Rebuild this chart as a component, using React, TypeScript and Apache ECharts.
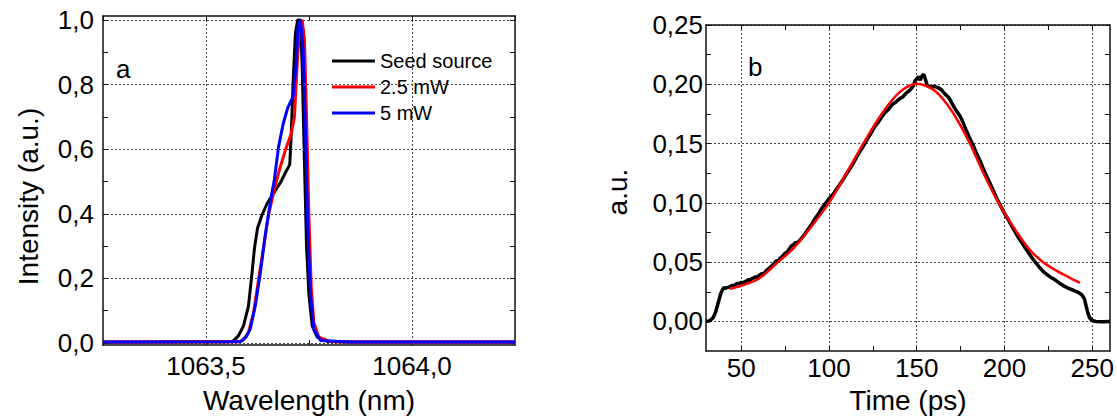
import React, { useEffect, useRef } from 'react';
import * as echarts from 'echarts';

// ---------- Panel a: spectra ----------
const seedWl = [1063.25, 1063.4, 1063.5, 1063.55, 1063.566, 1063.579, 1063.591, 1063.603, 1063.6115, 1063.6178, 1063.6251, 1063.6359, 1063.648, 1063.6602, 1063.6805, 1063.6927, 1063.7032, 1063.7066, 1063.7115, 1063.7171, 1063.7227, 1063.7293, 1063.7334, 1063.739, 1063.7439, 1063.7495, 1063.7578, 1063.77, 1063.794, 1063.85, 1064.25];
const seedInt = [0.003, 0.003, 0.004, 0.004, 0.006, 0.023, 0.053, 0.114, 0.215, 0.295, 0.356, 0.396, 0.431, 0.456, 0.496, 0.527, 0.552, 0.637, 0.809, 0.96, 1.0, 1.0, 0.86, 0.557, 0.305, 0.154, 0.053, 0.018, 0.005, 0.003, 0.003];

const p25Wl = [1063.25, 1063.55, 1063.58, 1063.591, 1063.603, 1063.6154, 1063.6273, 1063.6395, 1063.6517, 1063.6624, 1063.6761, 1063.6927, 1063.7066, 1063.7146, 1063.7212, 1063.7276, 1063.7334, 1063.739, 1063.7439, 1063.7495, 1063.7554, 1063.7617, 1063.7739, 1063.8, 1063.85, 1064.25];
const p25Int = [0.003, 0.004, 0.004, 0.01, 0.033, 0.094, 0.194, 0.295, 0.396, 0.456, 0.527, 0.597, 0.647, 0.698, 0.86, 0.99, 1.0, 0.94, 0.708, 0.406, 0.174, 0.063, 0.018, 0.005, 0.003, 0.003];

const p5Wl = [1063.25, 1063.55, 1063.585, 1063.598, 1063.6073, 1063.6195, 1063.6317, 1063.6439, 1063.6561, 1063.6659, 1063.6761, 1063.6871, 1063.6983, 1063.7115, 1063.7188, 1063.7237, 1063.7293, 1063.7359, 1063.7415, 1063.7471, 1063.7537, 1063.7617, 1063.7781, 1063.85, 1064.25];
const p5Int = [0.003, 0.004, 0.005, 0.02, 0.043, 0.114, 0.215, 0.335, 0.436, 0.506, 0.607, 0.677, 0.728, 0.763, 0.859, 0.98, 1.0, 0.909, 0.658, 0.356, 0.154, 0.043, 0.008, 0.003, 0.003];

const aXLabels = [1063.5, 1064.0];
const aXMinor = [1063.75];
const aXAll = [1063.25, 1063.5, 1063.75, 1064.0, 1064.25];
const aYLabels = [0, 0.2, 0.4, 0.6, 0.8, 1.0];
const aYMinor = [0.1, 0.3, 0.5, 0.7, 0.9];
const aYAll = [0, 0.1, 0.2, 0.3, 0.4, 0.5, 0.6, 0.7, 0.8, 0.9, 1.0];

// ---------- Panel b: pulse ----------
const pulseT = [30, 32, 34, 35.5, 37, 38.5, 40, 41, 42, 43, 44, 45, 46, 47, 48, 49, 50, 51, 52, 53, 54, 55, 56, 57, 58, 59, 60, 62, 63, 64, 66, 67, 68, 70, 71, 72, 74, 75, 76, 78, 79, 80, 81, 82, 84, 86, 88, 90, 92, 94, 96, 97, 98, 100, 102, 103, 104, 106, 108, 110, 112, 114, 116, 118, 120, 122, 124, 126, 128, 130, 132, 134, 136, 138, 140, 142, 144, 146, 148, 149, 150, 151, 152, 153, 154, 155, 156, 157, 158, 160, 161, 162, 164, 166, 167, 168, 169, 170, 172, 174, 175, 176, 178, 180, 182, 184, 186, 188, 190, 192, 194, 196, 198, 200, 202, 204, 206, 208, 210, 212, 214, 216, 218, 220, 222, 224, 226, 228, 230, 232, 234, 236, 238, 240, 242, 244, 245.5, 246.5, 247.5, 248.5, 250, 252, 256, 260];
const pulseV = [0.0, 0.0005, 0.003, 0.008, 0.016, 0.024, 0.0285, 0.028, 0.0285, 0.029, 0.0295, 0.0305, 0.03, 0.0315, 0.032, 0.0318, 0.033, 0.0325, 0.0335, 0.034, 0.0352, 0.0348, 0.036, 0.0365, 0.0375, 0.0372, 0.0385, 0.0405, 0.04, 0.0425, 0.045, 0.0462, 0.0475, 0.051, 0.0505, 0.053, 0.0555, 0.0575, 0.058, 0.0625, 0.064, 0.065, 0.0668, 0.066, 0.0695, 0.073, 0.0775, 0.0815, 0.0865, 0.0905, 0.0955, 0.0975, 0.0995, 0.1035, 0.1068, 0.1085, 0.111, 0.115, 0.1195, 0.1245, 0.129, 0.1338, 0.1392, 0.144, 0.1488, 0.154, 0.1588, 0.164, 0.1678, 0.1722, 0.1762, 0.179, 0.183, 0.1848, 0.1875, 0.1893, 0.1925, 0.1948, 0.1985, 0.203, 0.2045, 0.2065, 0.2035, 0.207, 0.2085, 0.204, 0.199, 0.1982, 0.1975, 0.1985, 0.1978, 0.1972, 0.1955, 0.192, 0.1905, 0.1892, 0.187, 0.184, 0.179, 0.1748, 0.1722, 0.1692, 0.162, 0.1552, 0.149, 0.142, 0.1358, 0.1285, 0.122, 0.1158, 0.1092, 0.1025, 0.0968, 0.0912, 0.0862, 0.0808, 0.0758, 0.0705, 0.0662, 0.0615, 0.0572, 0.053, 0.0492, 0.0455, 0.0422, 0.0398, 0.0375, 0.0358, 0.0338, 0.0315, 0.0298, 0.0282, 0.027, 0.0258, 0.0245, 0.0225, 0.019, 0.013, 0.007, 0.003, 0.0008, 0.0, -0.0002, 0.0];

const fitT = [43.5, 50, 60, 71, 80, 90, 100, 110, 120, 130, 140, 150, 160, 170, 180, 188, 196.6, 206, 214, 222, 230, 237, 243];
const fitV = [0.0275, 0.03, 0.036, 0.05, 0.062, 0.08, 0.1, 0.125, 0.151, 0.175, 0.193, 0.2005, 0.195, 0.1775, 0.151, 0.125, 0.1, 0.0775, 0.061, 0.05, 0.0425, 0.037, 0.0325];

const bXLabels = [50, 100, 150, 200, 250];
const bXMinor = [75, 125, 175, 225];
const bXAll = [50, 75, 100, 125, 150, 175, 200, 225, 250];
const bYLabels = [0, 0.05, 0.1, 0.15, 0.2, 0.25];
const bYMinor = [0.025, 0.075, 0.125, 0.175, 0.225];
const bYAll = [0, 0.025, 0.05, 0.075, 0.1, 0.125, 0.15, 0.175, 0.2, 0.225, 0.25];

const legendNames = ['Seed source', '2.5 mW', '5 mW'];

const FONT = "Arial, 'Liberation Sans', Helvetica, sans-serif";
const pair = (xs: number[], ys: number[]) => xs.map((x, i) => [x, ys[i]]);
const comma = (d: number) => (v: number) => v.toFixed(d).replace('.', ',');

const frameLine = { show: true, onZero: false, lineStyle: { color: '#111', width: 1.5 } };
const gridLine = { show: true, lineStyle: { color: '#444', width: 1, type: [2, 2] as any } };
const tickStyle = (vals: number[]) => ({ show: true, inside: true, length: 5, customValues: vals, lineStyle: { color: '#111', width: 1 } });

function mainAxis(kind: 'x' | 'y', grid: number, min: number, max: number, labels: number[], fmt: (v: number) => string, margin: number, name: string, nameGap: number, namePad?: number[]) {
  return {
    type: 'value', gridIndex: grid, min, max,
    position: kind === 'x' ? 'bottom' : 'left',
    axisLine: frameLine,
    axisTick: tickStyle(labels),
    splitLine: gridLine,
    axisLabel: { show: true, customValues: labels, formatter: fmt, margin, fontSize: 26, color: '#000', fontFamily: FONT, showMinLabel: true, showMaxLabel: true },
    name, nameLocation: 'middle', nameGap,
    nameTextStyle: { fontSize: 28, color: '#000', fontFamily: FONT, padding: namePad || 0 },
  };
}
function sideAxis(kind: 'x' | 'y', grid: number, min: number, max: number, ticks: number[], opposite: boolean) {
  return {
    type: 'value', gridIndex: grid, min, max,
    position: kind === 'x' ? (opposite ? 'top' : 'bottom') : (opposite ? 'right' : 'left'),
    axisLine: opposite ? frameLine : { show: false, onZero: false },
    axisTick: tickStyle(ticks),
    splitLine: { show: false },
    axisLabel: { show: false },
  };
}

export default function App() {
  const ref = useRef<HTMLDivElement>(null);
  useEffect(() => {
    if (!ref.current) return;
    const chart = echarts.init(ref.current, undefined, { renderer: 'svg' });
    const aXmin = 1063.25, aXmax = 1064.25, aYmin = -0.006, aYmax = 1.012;
    const bXmin = 30, bXmax = 260, bYmin = -0.025, bYmax = 0.25;
    chart.setOption({
      animation: false,
      backgroundColor: '#fff',
      textStyle: { fontFamily: FONT },
      grid: [
        { left: 103, top: 16, width: 412, height: 337, containLabel: false },
        { left: 706, top: 25, width: 407, height: 331, containLabel: false },
      ],
      xAxis: [
        mainAxis('x', 0, aXmin, aXmax, aXLabels, comma(1), 8, 'Wavelength (nm)', 41),
        sideAxis('x', 0, aXmin, aXmax, aXAll, true),
        sideAxis('x', 0, aXmin, aXmax, aXMinor, false),
        mainAxis('x', 1, bXmin, bXmax, bXLabels, (v: number) => String(Math.round(v)), 4, 'Time (ps)', 27),
        sideAxis('x', 1, bXmin, bXmax, bXAll, true),
        sideAxis('x', 1, bXmin, bXmax, bXMinor, false),
      ],
      yAxis: [
        mainAxis('y', 0, aYmin, aYmax, aYLabels, comma(1), 9, 'Intensity (a.u.)', 61, [0, 32, 0, 0]),
        sideAxis('y', 0, aYmin, aYmax, aYAll, true),
        sideAxis('y', 0, aYmin, aYmax, aYMinor, false),
        mainAxis('y', 1, bYmin, bYmax, bYLabels, comma(2), 3, 'a.u.', 75, [0, 8, 0, 0]),
        sideAxis('y', 1, bYmin, bYmax, bYAll, true),
        sideAxis('y', 1, bYmin, bYmax, bYMinor, false),
      ],
      legend: {
        data: legendNames,
        orient: 'vertical',
        left: 332, top: 51,
        padding: 0,
        itemGap: 6,
        itemWidth: 43,
        itemHeight: 3,
        icon: 'rect',
        textStyle: { fontSize: 20, lineHeight: 20, color: '#000', fontFamily: FONT },
      },
      graphic: [
        { type: 'text', x: 116, y: 69, style: { text: 'a', fontSize: 26, fontFamily: FONT, fill: '#000', verticalAlign: 'middle', textVerticalAlign: 'middle' } },
        { type: 'text', x: 748, y: 67, style: { text: 'b', fontSize: 26, fontFamily: FONT, fill: '#000', verticalAlign: 'middle', textVerticalAlign: 'middle' } },
      ],
      series: [
        { type: 'line', name: legendNames[0], xAxisIndex: 0, yAxisIndex: 0, data: pair(seedWl, seedInt), symbol: 'none', color: '#000', lineStyle: { color: '#000', width: 3 } },
        { type: 'line', name: legendNames[1], xAxisIndex: 0, yAxisIndex: 0, data: pair(p25Wl, p25Int), symbol: 'none', color: '#ff0000', lineStyle: { color: '#ff0000', width: 3 } },
        { type: 'line', name: legendNames[2], xAxisIndex: 0, yAxisIndex: 0, data: pair(p5Wl, p5Int), symbol: 'none', color: '#0000ff', lineStyle: { color: '#0000ff', width: 3 } },
        { type: 'line', name: 'Pulse', xAxisIndex: 3, yAxisIndex: 3, data: pair(pulseT, pulseV), symbol: 'none', color: '#000', lineStyle: { color: '#000', width: 3.5 } },
        { type: 'line', name: 'Fit', xAxisIndex: 3, yAxisIndex: 3, data: pair(fitT, fitV), symbol: 'none', smooth: 0.3, color: '#ff0000', lineStyle: { color: '#ff0000', width: 2.5 } },
      ],
    });
    return () => chart.dispose();
  }, []);
  return <div ref={ref} style={{ position: 'absolute', left: 0, top: 0, width: 1117, height: 419, background: '#fff' }} />;
}
